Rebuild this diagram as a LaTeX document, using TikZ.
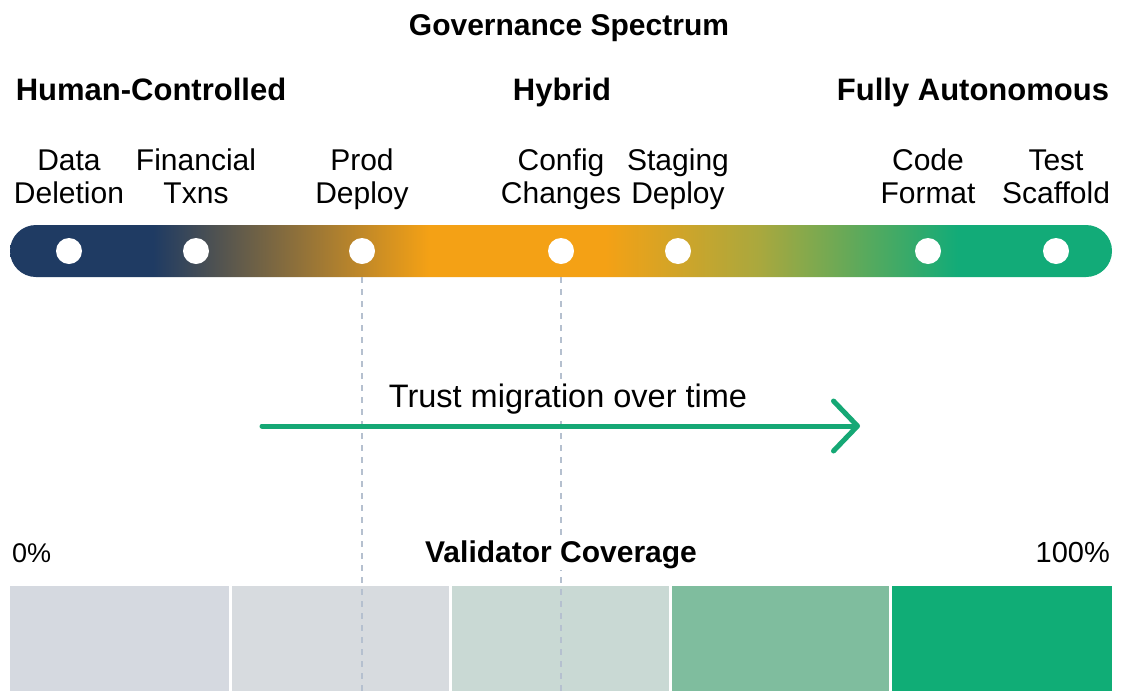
\documentclass[tikz,border=0pt]{standalone}
\usepackage{fontspec}
\setmainfont{Liberation Sans}
\usetikzlibrary{arrows.meta}
\definecolor{navy}{HTML}{1F3B63}
\definecolor{orng}{HTML}{F4A115}
\definecolor{olv}{HTML}{A9A83E}
\definecolor{grn}{HTML}{12AB78}
\definecolor{guidec}{HTML}{B5C0CF}
\definecolor{arrowc}{HTML}{15A875}
\definecolor{cellA}{HTML}{D5D9E0}
\definecolor{cellB}{HTML}{D7DBDF}
\definecolor{cellC}{HTML}{C9D9D4}
\definecolor{cellD}{HTML}{7FBD9E}
\definecolor{cellE}{HTML}{10AD76}
\pgfdeclarehorizontalshading{spec}{100bp}{color(0bp)=(navy); color(25bp)=(navy); color(31.5bp)=(navy); color(44bp)=(orng); color(52bp)=(orng); color(59bp)=(olv); color(68bp)=(grn); color(75bp)=(grn); color(100bp)=(grn)}
\tikzset{
  title/.style={font=\fontsize{31}{35}\selectfont\bfseries, anchor=base, inner sep=0pt},
  item/.style={font=\fontsize{30}{33}\selectfont, align=center, inner sep=0pt, anchor=base},
  plain/.style={font=\fontsize{29}{33}\selectfont, anchor=base, inner sep=2pt, fill=white},
  dot/.style={circle, fill=white, draw=none, minimum size=26pt, inner sep=0pt},
  guide/.style={guidec, line width=1.2pt, dash pattern=on 6pt off 6pt},
  cell/.style={draw=none, minimum height=105pt, inner sep=0pt, anchor=north west},
}
\begin{document}
\begin{tikzpicture}[x=1pt, y=-1pt]
\useasboundingbox[fill=white] (0,0) rectangle (1121,691);
% cells
\node[cell, fill=cellA, minimum width=219pt] (c1) at (10,586) {};
\node[cell, fill=cellB, minimum width=217pt] (c2) at (232,586) {};
\node[cell, fill=cellC, minimum width=217pt] (c3) at (452,586) {};
\node[cell, fill=cellD, minimum width=217pt] (c4) at (672,586) {};
\node[cell, fill=cellE, minimum width=220pt] (c5) at (892,586) {};
% bar
\node[shading=spec, rounded corners=26pt, minimum width=1102pt, minimum height=52pt, inner sep=0pt] (bar) at (561,251) {};
\node[dot] (d1) at (69,251) {};
\node[dot] (d2) at (196,251) {};
\node[dot] (d3) at (362,251) {};
\node[dot] (d4) at (561,251) {};
\node[dot] (d5) at (678,251) {};
\node[dot] (d6) at (928,251) {};
\node[dot] (d7) at (1056,251) {};
\coordinate (gb) at (0,691);
\draw[guide] (d3 |- bar.south) -- (d3 |- gb);
\draw[guide] (d4 |- bar.south) -- (d4 |- gb);
% titles
\node[title, font=\fontsize{30}{34}\selectfont\bfseries] (gov) at (569,35) {Governance Spectrum};
\node[title] (hc) at (151,100) {Human-Controlled};
\node[title] (hy) at (562,100) {Hybrid};
\node[title] (fa) at (973,100) {Fully Autonomous};
% items
\node[item] (t1) at (69,203) {Data\\Deletion};
\node[item] (t2) at (196,203) {Financial\\Txns};
\node[item] (t3) at (362,203) {Prod\\Deploy};
\node[item] (t4) at (561,203) {Config\\Changes};
\node[item] (t5) at (678,203) {Staging\\Deploy};
\node[item] (t6) at (928,203) {Code\\Format};
\node[item] (t7) at (1056,203) {Test\\Scaffold};
% trust arrow
\node[plain, font=\fontsize{32.5}{36}\selectfont] (trust) at (568,407) {Trust migration over time};
\coordinate (as) at (262,426);
\coordinate (ae) at (860,426);
\draw[arrowc, line width=5pt, line cap=round, line join=round, -{Straight Barb[length=24pt, width=50pt, line cap=round, line join=round]}] (as) -- (ae);
% coverage
\node[plain, anchor=base west, inner sep=0pt, font=\fontsize{27}{31}\selectfont] (p0) at (12,562) {0\%};
\node[title, font=\fontsize{30}{34}\selectfont\bfseries, fill=white, inner sep=2pt] (vc) at (561,562) {Validator Coverage};
\node[plain, anchor=base east, inner sep=0pt] (p100) at (1110,562) {100\%};
\end{tikzpicture}
\end{document}
